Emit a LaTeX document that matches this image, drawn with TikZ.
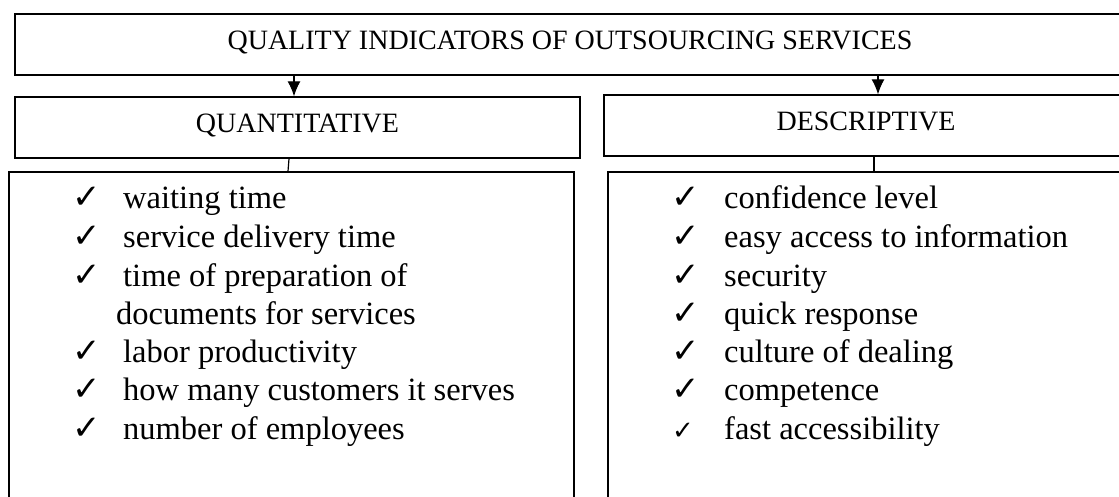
\documentclass[tikz,border=0pt]{standalone}
\usepackage{fontspec}
\setmainfont{Liberation Serif}
\newfontfamily\checkfont{DejaVu Sans}
\usetikzlibrary{arrows.meta}
\begin{document}
\begin{tikzpicture}[x=1pt,y=-1pt,
  box/.style={draw=black, line width=1.4pt, rectangle, inner sep=0pt},
  head/.style={box, font=\fontsize{28}{34}\selectfont, text height=18.5pt, text depth=8pt},
  item/.style={anchor=base west, inner sep=0pt, font=\fontsize{32.5}{38}\selectfont},
  chk/.style={anchor=base west, inner sep=0pt, font=\checkfont\fontsize{34}{40}\selectfont},
  arr/.style={line width=1.2pt, -{Latex[length=15pt,width=13pt]}},
  conn/.style={line width=1.2pt}]
\useasboundingbox (0,0) rectangle (1119,497);
\clip (0,0) rectangle (1119,497);
\node[head, minimum width=1110pt, minimum height=61pt] (top) at (570,44.5) {QUALITY INDICATORS OF OUTSOURCING SERVICES};
\node[head, minimum width=565pt, minimum height=61pt] (q) at (297.5,127.5) {QUANTITATIVE};
\node[head, minimum width=524pt, minimum height=61pt] (d) at (866,125.5) {DESCRIPTIVE};
\node[box, minimum width=565pt, minimum height=368pt] (lb) at (291.5,356) {};
\node[box, minimum width=532pt, minimum height=368pt] (rb) at (874,356) {};
% arrows
\path ([xshift=-3.5pt]q.north) coordinate (qa);
\draw[arr] (top.south -| qa) -- (qa);
\path ([xshift=12pt]d.north) coordinate (da);
\draw[arr] (top.south -| da) -- (da);
% connectors
\draw[conn] ([xshift=-8.5pt]q.south) -- ([xshift=-3.5pt]lb.north);
\draw[conn] (d.south -| rb.north) -- (rb.north);
% left list
\foreach \yy/\txt [count=\i] in {209/waiting time, 247.5/service delivery time, 286/time of preparation of, 362/labor productivity, 400/how many customers it serves, 439/number of employees} {
  \node[chk] (lc\i) at (72,\yy) {✓};
  \node[item] (lt\i) at (123,\yy) {\txt};
}
\node[item] (lt0) at (116,324) {documents for services};
% right list
\foreach \yy/\txt [count=\i] in {209/confidence level, 247.5/easy access to information, 286/security, 324/quick response, 362/culture of dealing, 400/competence} {
  \node[chk] (rc\i) at (671,\yy) {✓};
  \node[item] (rt\i) at (724,\yy) {\txt};
}
\node[chk, font=\checkfont\fontsize{26}{30}\selectfont] (rc7) at (672,439) {✓};
\node[item] (rt7) at (724,439) {fast accessibility};
\end{tikzpicture}
\end{document}
